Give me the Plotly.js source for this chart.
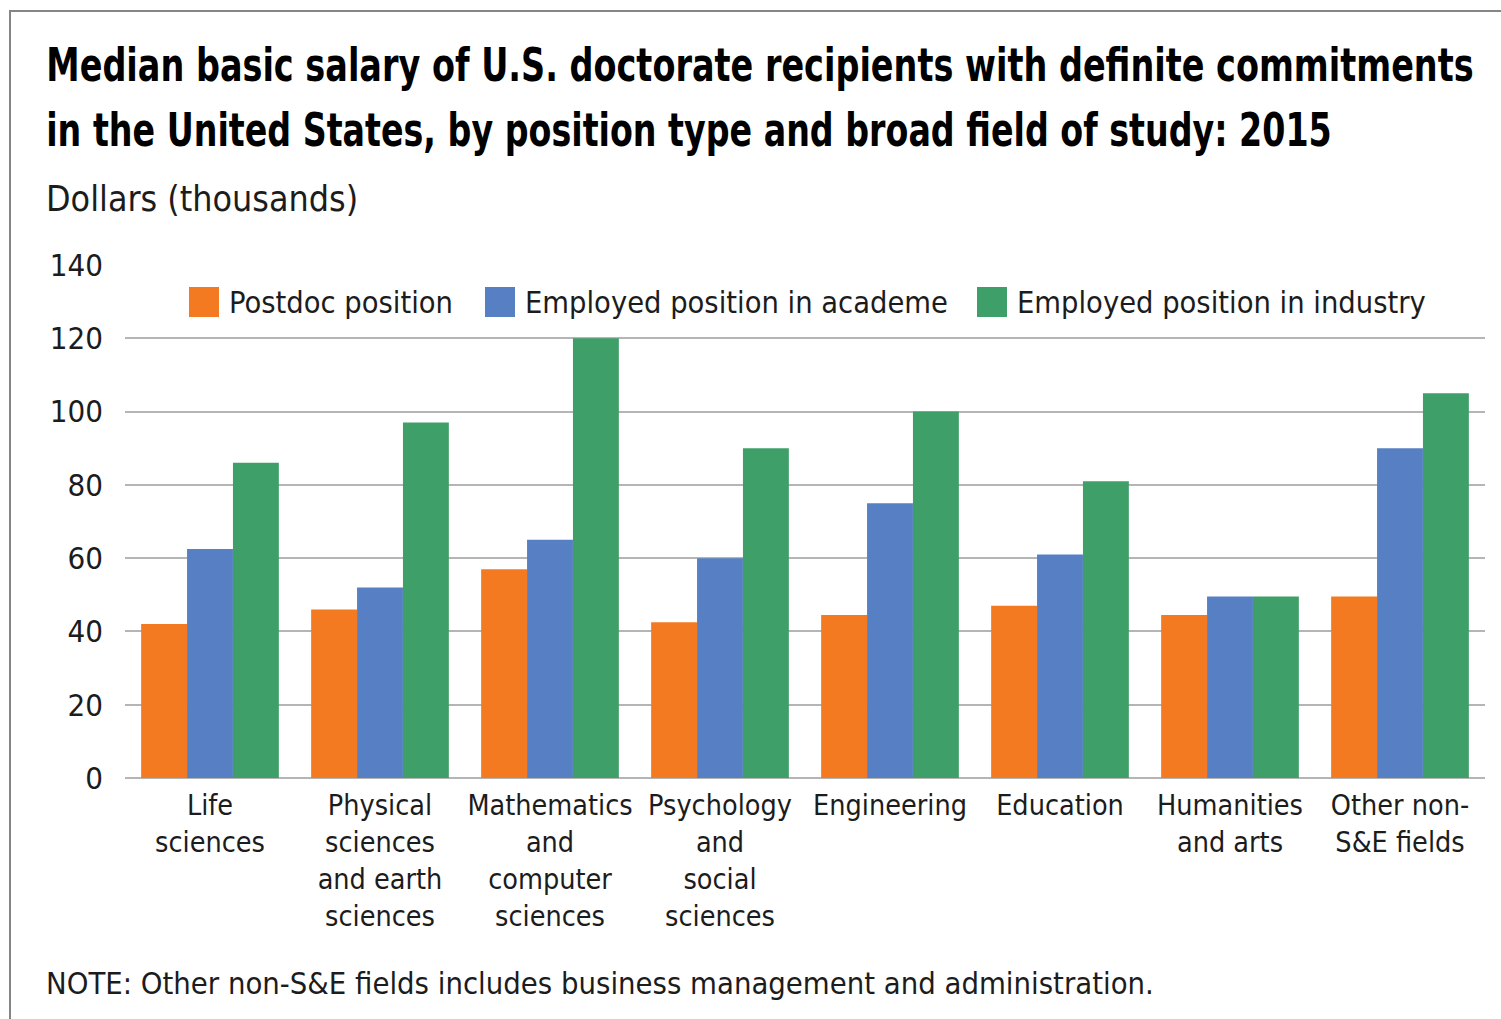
<!DOCTYPE html>
<html>
<head>
<meta charset="utf-8">
<script src="https://cdn.plot.ly/plotly-3.0.1.min.js"></script>
<style>
  html, body { margin: 0; padding: 0; background: #ffffff; overflow: hidden; }
  #frame { position: absolute; left: 9px; top: 10px; width: 1500px; height: 1020px;
           border-left: 2px solid #858585; border-top: 2px solid #858585; box-sizing: border-box; pointer-events: none; z-index: 5; }
  #chart { width: 1501px; height: 1019px; }
</style>
</head>
<body>
<div id="frame"></div>
<div id="chart"></div>
<script>
const categories = [
  "Life<br>sciences",
  "Physical<br>sciences<br>and earth<br>sciences",
  "Mathematics<br>and<br>computer<br>sciences",
  "Psychology<br>and<br>social<br>sciences",
  "Engineering",
  "Education",
  "Humanities<br>and arts",
  "Other non-<br>S&E fields"
];
const seriesNames = ["Postdoc position", "Employed position in academe", "Employed position in industry"];
const postdoc  = [42, 46, 57, 42.5, 44.5, 47, 44.5, 49.5];
const academe  = [62.5, 52, 65, 60, 75, 61, 49.5, 90];
const industry = [86, 97, 120, 90, 100, 81, 49.5, 105];
const colors = ["#F37A21", "#5680C3", "#3F9F68"];
const yTicks = [0, 20, 40, 60, 80, 100, 120, 140];
const titleLines = [
  "Median basic salary of U.S. doctorate recipients with definite commitments",
  "in the United States, by position type and broad field of study: 2015"
];
const yAxisTitle = "Dollars (thousands)";
const noteText = "NOTE: Other non-S&E fields includes business management and administration.";

const FONT = '"DejaVu Sans Condensed", "Liberation Sans Narrow", "Arial Narrow", sans-serif';
const TXT = "#1c1c1c";

const values = [postdoc, academe, industry];
const traces = values.map((v, i) => ({
  type: "bar",
  name: seriesNames[i],
  x: categories,
  y: v,
  marker: { color: colors[i], line: { width: 0 } },
  showlegend: false,
  hoverinfo: "x+y+name"
}));

const plotL = 125, plotR = 1485, plotT = 265, plotB = 778;
const toPX = px => (px - plotL) / (plotR - plotL);
const toPY = py => (plotB - py) / (plotB - plotT);
const shapes = [];
const annotations = [];

// custom legend with large square swatches
const legendX = [189, 485, 977];
seriesNames.forEach((n, i) => {
  shapes.push({
    type: "rect", xref: "paper", yref: "paper",
    xsizemode: "pixel", ysizemode: "pixel",
    xanchor: toPX(legendX[i]), yanchor: toPY(302),
    x0: 0, x1: 30, y0: -15, y1: 15,
    fillcolor: colors[i], line: { width: 0 }
  });
  annotations.push({
    xref: "paper", yref: "paper", x: toPX(legendX[i] + 38), y: toPY(302),
    xanchor: "left", yanchor: "middle", showarrow: false,
    text: n, font: { family: FONT, size: 30.5, color: TXT }
  });
});

annotations.push({
  xref: "paper", yref: "paper", x: toPX(47), y: toPY(198), xshift: -3,
  xanchor: "left", yanchor: "middle", showarrow: false,
  text: yAxisTitle, font: { family: FONT, size: 35.5, color: TXT }
});
annotations.push({
  xref: "paper", yref: "paper", x: toPX(47), y: toPY(983), xshift: -3,
  xanchor: "left", yanchor: "middle", showarrow: false,
  text: noteText, font: { family: FONT, size: 30.7, color: TXT }
});
titleLines.forEach((t, i) => {
  annotations.push({
    xref: "paper", yref: "paper", x: toPX(47), y: toPY(i === 0 ? 65 : 130), xshift: -3,
    xanchor: "left", yanchor: "middle", showarrow: false,
    text: "<b>" + t + "</b>",
    font: { family: FONT, size: 46, color: "#000000" }
  });
});

const layout = {
  width: 1501, height: 1019,
  margin: { l: plotL, r: 1501 - plotR, t: plotT, b: 1019 - plotB, pad: 0 },
  paper_bgcolor: "#ffffff", plot_bgcolor: "#ffffff",
  barmode: "group", bargap: 0.19, bargroupgap: 0,
  showlegend: false,
  xaxis: {
    type: "category",
    tickfont: { family: FONT, size: 28.5, color: TXT },
    ticks: "", ticklabelstandoff: 7, showgrid: false, showline: false, zeroline: false,
    automargin: false, tickangle: 0
  },
  yaxis: {
    range: [0, 140], tickvals: yTicks, ticktext: yTicks.map(String),
    tickfont: { family: FONT, size: 31, color: TXT },
    ticks: "", ticklabelstandoff: 21,
    showgrid: true, gridcolor: "#b5b5b5", gridwidth: 2,
    zeroline: true, zerolinecolor: "#b5b5b5", zerolinewidth: 2,
    showline: false, automargin: false
  },
  shapes: shapes,
  annotations: annotations
};

// target pixel widths of the two bold title lines (condensed face in the reference)
const titleTargetWidths = [1428, 1286];

Plotly.newPlot("chart", traces, layout, { displayModeBar: false, staticPlot: true }).then(() => {
  const texts = document.querySelectorAll("#chart .annotation-text");
  texts.forEach(el => {
    const content = el.textContent;
    const idx = titleLines.indexOf(content);
    if (idx < 0) return;
    const bb = el.getBBox();
    const s = titleTargetWidths[idx] / bb.width;
    el.setAttribute("transform", "matrix(" + s + ",0,0,1," + (bb.x * (1 - s)) + ",0)");
  });
});
</script>
</body>
</html>
